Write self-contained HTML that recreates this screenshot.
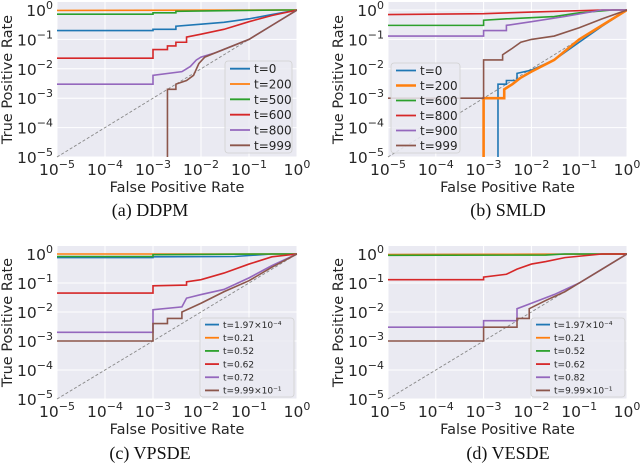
<!DOCTYPE html>
<html><head><meta charset="utf-8"><style>
body{margin:0;background:#fff;}
svg{display:block;font-family:"DejaVu Sans","Liberation Sans",sans-serif;}
.cap{font-family:"Liberation Serif",serif;font-size:18px;}
</style></head><body>
<svg id="fig" width="640" height="465" viewBox="0 0 640 465" xmlns="http://www.w3.org/2000/svg"></svg>
<script>
// ---- data (FPR / TPR per series, per panel) ----
const ddpmLabels = ["t=0","t=200","t=500","t=600","t=800","t=999"];
const ddpmFpr = [
 [1e-5,1e-3,1e-3,3e-3,3e-3,0.01,0.03,0.1,0.3,1],
 [1e-5,1],
 [1e-5,1e-3,1e-3,3e-3,3e-3,0.03,0.5,1],
 [1e-5,1e-3,1e-3,2e-3,2e-3,3e-3,3e-3,5e-3,5e-3,0.01,0.03,0.1,0.3,1],
 [1e-5,1e-3,1e-3,4e-3,5e-3,6e-3,8e-3,0.01,0.02,0.1,0.3,1],
 [2e-3,2e-3,3e-3,3e-3,5e-3,7e-3,9e-3,0.012,0.02,0.1,0.3,1]];
const ddpmTpr = [
 [0.2,0.2,0.22,0.22,0.28,0.33,0.38,0.5,0.7,1],
 [0.97,1],
 [0.72,0.72,0.8,0.8,0.9,0.95,1,1],
 [0.023,0.023,0.045,0.045,0.06,0.06,0.08,0.08,0.12,0.15,0.22,0.4,0.65,1],
 [0.003,0.003,0.006,0.008,0.01,0.012,0.02,0.025,0.035,0.1,0.3,1],
 [1e-7,0.002,0.002,0.003,0.004,0.006,0.015,0.025,0.035,0.1,0.3,1]];
const smldLabels = ["t=0","t=200","t=600","t=800","t=900","t=999"];
const smldFpr = [
 [2e-3,2e-3,3e-3,3e-3,5e-3,5e-3,0.01,0.03,0.1,0.3,1],
 [1e-3,1e-3,2.7e-3,2.7e-3,4e-3,6e-3,0.01,0.03,0.1,0.3,1],
 [1e-5,1e-3,1e-3,3e-3,0.03,0.1,0.5,1],
 [1e-5,1e-3,0.01,0.3,1],
 [1e-5,1e-3,1e-3,3e-3,3e-3,0.01,0.05,0.3,1],
 [1e-5,1e-3,1e-3,2.5e-3,2.5e-3,4e-3,6e-3,0.01,0.03,0.1,0.3,1]];
const smldTpr = [
 [1e-7,0.003,0.003,0.004,0.004,0.007,0.009,0.02,0.08,0.28,1],
 [1e-7,0.001,0.001,0.002,0.003,0.005,0.008,0.02,0.1,0.3,1],
 [0.3,0.3,0.45,0.5,0.6,0.8,1,1],
 [0.7,0.75,0.85,1,1],
 [0.13,0.13,0.2,0.2,0.3,0.4,0.6,1,1],
 [0.001,0.001,0.02,0.02,0.03,0.05,0.08,0.1,0.13,0.25,0.5,1]];
const sdeLabels = ["t=1.97\u00d710\u207b\u2074","t=0.21","t=0.52","t=0.62","t=0.72","t=9.99\u00d710\u207b\u00b9"];
const vesdeLabels = ["t=1.97\u00d710\u207b\u2074","t=0.21","t=0.52","t=0.62","t=0.82","t=9.99\u00d710\u207b\u00b9"];
const vpsdeFpr = [
 [1e-5,1e-3,1e-3,0.05,0.3,1],
 [1e-5,1],
 [1e-5,1e-3,1e-3,0.2,1],
 [1e-5,1e-3,1e-3,5e-3,5e-3,0.01,0.03,0.1,0.3,1],
 [1e-5,1e-3,1e-3,4e-3,5e-3,0.01,0.03,0.1,0.3,1],
 [1e-5,1e-3,1e-3,2e-3,2e-3,4e-3,4e-3,0.01,0.03,0.1,0.3,1]];
const vpsdeTpr = [
 [0.75,0.75,0.8,0.82,1,1],
 [1,1],
 [0.82,0.82,0.95,1,1],
 [0.045,0.045,0.08,0.085,0.11,0.13,0.22,0.45,0.8,1],
 [0.002,0.002,0.012,0.015,0.03,0.04,0.06,0.15,0.4,1],
 [0.001,0.001,0.004,0.004,0.006,0.006,0.01,0.02,0.05,0.12,0.35,1]];
const vesdeFpr = [
 [1e-5,1],
 [1e-5,1],
 [1e-5,0.02,0.05,1],
 [1e-5,1e-3,1e-3,3e-3,5e-3,0.01,0.02,0.05,0.3,1],
 [1e-5,1e-3,1e-3,5e-3,5e-3,0.01,0.03,0.1,0.3,1],
 [1e-5,1e-3,1e-3,5e-3,5e-3,9e-3,9e-3,0.02,0.05,0.1,0.3,1]];
const vesdeTpr = [
 [0.95,1],
 [0.96,1],
 [0.9,0.92,1,1],
 [0.13,0.13,0.16,0.2,0.3,0.45,0.55,0.75,1,1],
 [0.003,0.003,0.005,0.005,0.013,0.02,0.04,0.1,0.3,1],
 [0.001,0.001,0.003,0.003,0.006,0.006,0.013,0.025,0.05,0.1,0.3,1]];
const tickExps = [-5,-4,-3,-2,-1,0];
const colors = ["#1f77b4","#ff7f0e","#2ca02c","#d62728","#9467bd","#8c564b"];

const NS="http://www.w3.org/2000/svg";
const svg=document.getElementById('fig');
function mk(tag,attrs,parent){const e=document.createElementNS(NS,tag);for(const k in attrs)e.setAttribute(k,attrs[k]);(parent||svg).appendChild(e);return e;}
function expStr(e){return e<0?'\u2212'+(-e):''+e;}

function panel(p){
  const g=mk('g',{});
  
  
  const x0=p.x0,x1=p.x1,yTop=p.yTop,y0=p.y0,yB=p.yB;
  const dec=(yB-y0)/5;
  const sx=v=>x0+(Math.log10(v)+5)/5*(x1-x0);
  const sy=v=>y0+(-Math.log10(v))*dec;
  const bg=mk('rect',{x:x0,y:yTop,width:x1-x0,height:yB-yTop,fill:"#eaeaf2"},g);
  
  
  const cid='clip'+p.id;
  const cp=mk('clipPath',{id:cid},g);mk('rect',{x:x0,y:yTop,width:x1-x0,height:yB-yTop},cp);
  tickExps.forEach(e=>{
    const v=Math.pow(10,e);
    mk('line',{x1:sx(v),x2:sx(v),y1:yTop,y2:yB,stroke:"#fff","stroke-width":1},g);
    mk('line',{x1:x0,x2:x1,y1:sy(v),y2:sy(v),stroke:"#fff","stroke-width":1},g);
    const tx=mk('text',{x:sx(v),y:yB+18,"text-anchor":"middle","font-size":15.5,fill:"#262626"},g);
    
    
    tx.innerHTML='10<tspan dy="-7" font-size="11">'+expStr(e)+'</tspan>';
    const ty=mk('text',{x:x0-4,y:sy(v)+6,"text-anchor":"end","font-size":15.5,fill:"#262626"},g);
    
    
    ty.innerHTML='10<tspan dy="-7" font-size="11">'+expStr(e)+'</tspan>';
  });
  mk('line',{x1:x0,y1:yB,x2:x1,y2:y0,stroke:"#888","stroke-width":0.9,"stroke-dasharray":"3,2"},g);
  const lg=mk('g',{'clip-path':'url(#'+cid+')'},g);
  p.fpr.forEach((xs,i)=>{
    const ys=p.tpr[i];
    let d='';
    for(let k=0;k<xs.length;k++){d+=(k?' L':'M')+sx(xs[k]).toFixed(2)+','+sy(ys[k]).toFixed(2);}
    const path=mk('path',{d:d,fill:"none",stroke:colors[i],"stroke-width":(p.thick===i?2.6:1.6),"stroke-linejoin":"miter"},lg);
    
    
  });
  const xl=mk('text',{x:(x0+x1)/2,y:yB+35,"text-anchor":"middle","font-size":14.5,fill:"#262626"},g);
  
  
  xl.textContent='False Positive Rate';
  const yl=mk('text',{x:0,y:0,"text-anchor":"middle","font-size":14.5,fill:"#262626",transform:`translate(${p.ylx},${(yTop+yB)/2}) rotate(-90)`},g);
  
  
  yl.textContent='True Positive Rate';
  const L=p.leg;
  const lb=mk('rect',{x:L.x,y:L.y,width:L.w,height:L.h,rx:3,fill:"#eaeaf2","fill-opacity":0.85,stroke:"#d0d0d0","stroke-width":0.8},g);
  
  
  const step=L.h/6;
  p.labels.forEach((t,i)=>{
    const yy=L.y+step*(i+0.5);
    mk('line',{x1:L.x+5,x2:L.x+5+L.line,y1:yy,y2:yy,stroke:colors[i],"stroke-width":(p.thick===i?2.6:1.8)},g);
    const tt=mk('text',{x:L.x+9+L.line,y:yy+L.fs*0.37,"font-size":L.fs,fill:"#262626"},g);
    
    
    tt.textContent=t;
  });
  const c=mk('text',{x:p.capx,y:p.capy,"text-anchor":"middle",class:"cap",fill:"#111"},g);
  
  
  c.textContent=p.cap;
}
panel({id:'a',name:'ddpm-panel',x0:57,x1:297,yTop:2,y0:10,yB:157,fpr:ddpmFpr,tpr:ddpmTpr,labels:ddpmLabels,ylx:12,
  leg:{x:225,y:61,w:67,h:92,line:20,fs:12},cap:'(a) DDPM',capx:150,capy:216});
panel({id:'b',name:'smld-panel',x0:388,x1:627,yTop:2,y0:10,yB:157,fpr:smldFpr,tpr:smldTpr,labels:smldLabels,ylx:343,thick:1,
  leg:{x:391,y:63,w:69,h:90,line:20,fs:12},cap:'(b) SMLD',capx:508,capy:216});
panel({id:'c',name:'vpsde-panel',x0:57,x1:297,yTop:246,y0:254,yB:399,fpr:vpsdeFpr,tpr:vpsdeTpr,labels:sdeLabels,ylx:12,
  leg:{x:200,y:318,w:94,h:79,line:14,fs:9},cap:'(c) VPSDE',capx:150,capy:459});
panel({id:'d',name:'vesde-panel',x0:388,x1:627,yTop:246,y0:254,yB:399,fpr:vesdeFpr,tpr:vesdeTpr,labels:vesdeLabels,ylx:343,
  leg:{x:531,y:318,w:94,h:79,line:14,fs:9},cap:'(d) VESDE',capx:508,capy:459});
</script>
</body></html>
